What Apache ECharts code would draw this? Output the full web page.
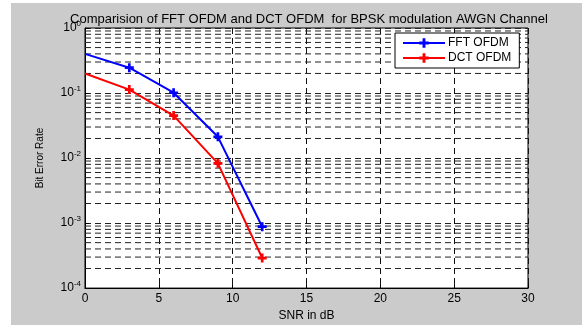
<!DOCTYPE html>
<html>
<head>
<meta charset="utf-8">
<script src="https://cdn.jsdelivr.net/npm/echarts@6/dist/echarts.min.js"></script>
<style>
  html, body { margin: 0; padding: 0; background: #fff; }
  #chart { width: 582px; height: 327px; }
</style>
</head>
<body>
<div id="chart"></div>
<script>
// data
const snr = [0, 3, 6, 9, 12];
const fftBer = [0.40, 0.245, 0.101, 0.0212, 0.00088];
const dctBer = [0.20, 0.113, 0.045, 0.0083, 0.00029];
const xTicks = [0, 5, 10, 15, 20, 25, 30];

// MATLAB-style minor log grid (2..9 in each decade)
const minorGrid = [];
for (let e = -4; e < 0; e++) {
  for (let m = 2; m <= 9; m++) minorGrid.push(m * Math.pow(10, e));
}

const plusMark = 'path://M3.5,0h3v3.5h3.5v3h-3.5v3.5h-3v-3.5h-3.5v-3h3.5z';

function toPoints(ys) {
  return snr.map((x, i) => i === 0 ? { value: [x, ys[i]], symbol: 'none' } : [x, ys[i]]);
}

// one dashed horizontal line per minor grid value
const gridSeries = minorGrid.map(v => ({
  name: 'g' + v, type: 'line', silent: true, symbol: 'none', z: 1,
  data: [[0, v], [30, v]],
  lineStyle: { color: '#222', type: [6, 4], width: 1 },
  tooltip: { show: false }
}));

const chart = echarts.init(document.getElementById('chart'));

const option = {
  backgroundColor: '#fff',
  animation: false,
  textStyle: { fontFamily: 'Liberation Sans, Arial, sans-serif' },
  graphic: [{
    type: 'rect',
    z: -10,
    shape: { x: 11, y: 3, width: 571, height: 322 },
    style: { fill: '#cbcbcb' }
  }],
  title: {
    text: 'Comparision of FFT OFDM and DCT OFDM  for BPSK modulation AWGN Channel',
    left: 304, textAlign: 'center', top: 8,
    textStyle: { fontSize: 13, fontWeight: 'normal', color: '#000' }
  },
  legend: {
    left: 395, top: 33,
    orient: 'vertical',
    backgroundColor: '#fff',
    borderColor: '#000', borderWidth: 1,
    padding: [4, 8, 4, 7],
    itemGap: 3,
    itemWidth: 42, itemHeight: 12,
    textStyle: { fontSize: 12, color: '#000', padding: [0, 0, 0, -2] },
    data: ['FFT OFDM', 'DCT OFDM']
  },
  grid: {
    left: 85, right: 54, top: 28, bottom: 35,
    show: true, backgroundColor: '#fff', borderColor: '#000', borderWidth: 1
  },
  xAxis: {
    type: 'value', min: 0, max: 30, interval: 5,
    name: 'SNR in dB', nameLocation: 'middle', nameGap: 20,
    nameTextStyle: { fontSize: 12, color: '#000' },
    axisLine: { lineStyle: { color: '#000' } },
    axisTick: { inside: true, length: 4, lineStyle: { color: '#000' } },
    axisLabel: { fontSize: 12, color: '#000', margin: 5,
      formatter: v => xTicks.includes(v) ? String(v) : '' },
    splitLine: { show: true, lineStyle: { color: '#111', type: [6, 4], width: 1 } }
  },
  yAxis: {
    type: 'log', logBase: 10, min: 1e-4, max: 1,
    name: 'Bit Error Rate', nameLocation: 'middle', nameGap: 40,
    nameTextStyle: { fontSize: 10, color: '#000' },
    axisLine: { lineStyle: { color: '#000' } },
    axisTick: { inside: true, length: 4, lineStyle: { color: '#000' } },
    axisLabel: {
      color: '#000', margin: 4,
      formatter: v => '{b|10}{s|' + Math.round(Math.log10(v)) + '}',
      rich: {
        b: { fontSize: 12, color: '#000' },
        s: { fontSize: 8, color: '#000', verticalAlign: 'top', padding: [0, 0, 9, 0] }
      }
    },
    splitLine: { show: true, lineStyle: { color: '#222', type: [6, 4], width: 1 } }
  },
  series: gridSeries.concat([
    {
      name: 'FFT OFDM', type: 'line', data: toPoints(fftBer),
      color: '#0000ff', symbol: plusMark, symbolSize: 9,
      lineStyle: { width: 2 }, z: 5
    },
    {
      name: 'DCT OFDM', type: 'line', data: toPoints(dctBer),
      color: '#ff0000', symbol: plusMark, symbolSize: 9,
      lineStyle: { width: 2 }, z: 5
    }
  ])
};

chart.setOption(option);
</script>
</body>
</html>
